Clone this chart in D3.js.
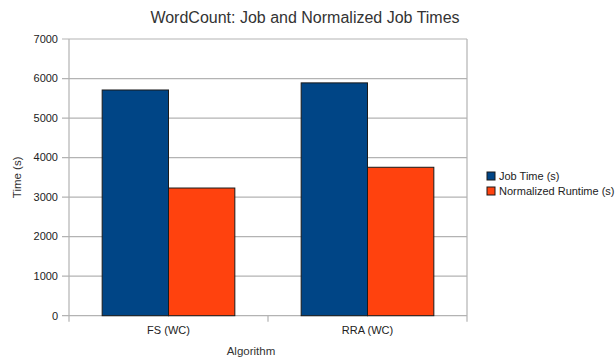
<!DOCTYPE html>
<html>
<head>
<meta charset="utf-8">
<script src="https://cdn.jsdelivr.net/npm/d3@7"></script>
<style>
  html, body { margin: 0; padding: 0; background: #fff; }
  svg { display: block; font-family: "Liberation Sans", Arial, sans-serif; }
</style>
</head>
<body>
<svg id="chart" width="616" height="360"></svg>
<script>
// Job timings per scheduling algorithm
const categories = ["FS (WC)", "RRA (WC)"];
const seriesNames = ["Job Time (s)", "Normalized Runtime (s)"];
const jobTime = [5710, 5890];
const normalizedRuntime = [3230, 3755];
const yTicks = [0, 1000, 2000, 3000, 4000, 5000, 6000, 7000];
const colors = ["#004586", "#ff420e"];

const svg = d3.select("#chart");
const m = { left: 69, right: 467, top: 39, bottom: 315.7 };

const x = d3.scaleBand().domain(categories).range([m.left, m.right]).paddingInner(0).paddingOuter(0);
const inner = d3.scaleBand().domain(seriesNames).range([0, x.bandwidth()]).paddingOuter(0.5).paddingInner(0);
const y = d3.scaleLinear().domain([0, 7000]).range([m.bottom, m.top]);

// grid lines
svg.append("g").selectAll("line").data(yTicks).join("line")
  .attr("x1", m.left - 7).attr("x2", m.right)
  .attr("y1", d => y(d)).attr("y2", d => y(d))
  .attr("stroke", "#b3b3b3").attr("stroke-width", 1.2);

// plot frame: left and right verticals
svg.append("line").attr("x1", m.left).attr("x2", m.left).attr("y1", m.top).attr("y2", m.bottom + 6)
  .attr("stroke", "#b3b3b3").attr("stroke-width", 1.2);
svg.append("line").attr("x1", m.right).attr("x2", m.right).attr("y1", m.top).attr("y2", m.bottom + 6)
  .attr("stroke", "#b3b3b3").attr("stroke-width", 1.2);
// category separators on the x axis
svg.append("g").selectAll("line").data(categories.slice(1)).join("line")
  .attr("x1", d => x(d)).attr("x2", d => x(d))
  .attr("y1", m.bottom).attr("y2", m.bottom + 6)
  .attr("stroke", "#b3b3b3").attr("stroke-width", 1.2);

// y tick labels
svg.append("g").selectAll("text").data(yTicks).join("text")
  .attr("x", m.left - 11).attr("y", d => y(d)).attr("dy", "0.35em")
  .attr("text-anchor", "end").attr("font-size", 11).attr("fill", "#222")
  .text(d => d);

// bars
const series = [jobTime, normalizedRuntime];
const groups = svg.append("g").selectAll("g").data(categories).join("g")
  .attr("transform", d => `translate(${x(d)},0)`);
groups.selectAll("rect").data((c, i) => seriesNames.map((s, j) => ({ s, v: series[j][i], j })))
  .join("rect")
  .attr("x", d => inner(d.s)).attr("width", inner.bandwidth())
  .attr("y", d => y(d.v)).attr("height", d => y(0) - y(d.v))
  .attr("fill", d => colors[d.j]).attr("stroke", "#1a1a1a").attr("stroke-width", 1);

// category labels
svg.append("g").selectAll("text").data(categories).join("text")
  .attr("x", d => x(d) + x.bandwidth() / 2).attr("y", 334)
  .attr("text-anchor", "middle").attr("font-size", 11).attr("fill", "#222")
  .text(d => d);

// title and axis titles
svg.append("text").attr("x", 305).attr("y", 23).attr("text-anchor", "middle")
  .attr("font-size", 16).attr("fill", "#333")
  .text("WordCount: Job and Normalized Job Times");
svg.append("text").attr("x", 251).attr("y", 355).attr("text-anchor", "middle")
  .attr("font-size", 11.5).attr("fill", "#333").text("Algorithm");
svg.append("text").attr("transform", `translate(21,${(m.top + m.bottom) / 2}) rotate(-90)`)
  .attr("text-anchor", "middle").attr("font-size", 11.5).attr("fill", "#333").text("Time (s)");

// legend
const legend = svg.append("g").selectAll("g").data(seriesNames).join("g")
  .attr("transform", (d, i) => `translate(487,${172 + i * 15})`);
legend.append("rect").attr("width", 8).attr("height", 8)
  .attr("fill", (d, i) => colors[i]).attr("stroke", "#1a1a1a").attr("stroke-width", 1);
legend.append("text").attr("x", 12).attr("y", 4).attr("dy", "0.35em")
  .attr("font-size", 11).attr("fill", "#222").text(d => d);
</script>
</body>
</html>
